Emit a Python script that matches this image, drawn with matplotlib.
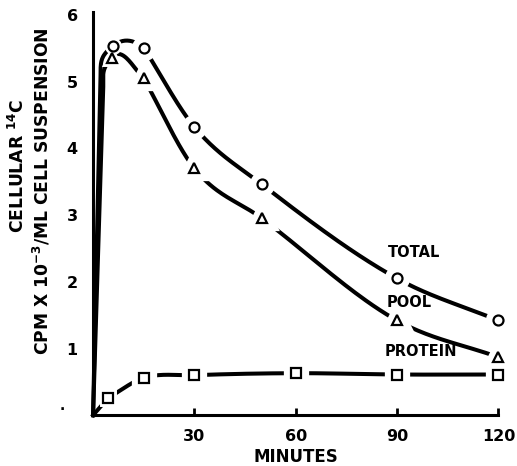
import numpy as np
import matplotlib
matplotlib.use("Agg")
import matplotlib.pyplot as plt

# data (minutes, cellular 14C cpm x 10^-3 / ml)
total_t = [0, 2.2, 6, 15, 30, 50, 90, 120]
total_v = [0, 5.0, 5.54, 5.51, 4.32, 3.46, 2.05, 1.42]
pool_t = [0, 3.0, 5.5, 15, 30, 50, 90, 120]
pool_v = [0, 4.85, 5.36, 5.05, 3.70, 2.95, 1.42, 0.87]
protein_t = [0, 4.5, 15, 30, 60, 90, 120]
protein_v = [0, 0.26, 0.56, 0.60, 0.63, 0.61, 0.61]
# index of the first point that carries a marker
total_first = 2
pool_first = 2
protein_first = 1

x_ticks = [30, 60, 90, 120]
y_ticks = [1, 2, 3, 4, 5, 6]

XMAX, YMAX = 120, 6.05
SX, SY = 407 / XMAX, 400 / YMAX   # rough px per unit, for shaping the curves


def hermite(x0, x1, y0, y1, m0, m1, n=40):
    u = np.linspace(0, 1, n)
    h = x1 - x0
    y = ((2 * u ** 3 - 3 * u ** 2 + 1) * y0 + (u ** 3 - 2 * u ** 2 + u) * h * m0
         + (-2 * u ** 3 + 3 * u ** 2) * y1 + (u ** 3 - u ** 2) * h * m1)
    return x0 + u * h, y


def bezier(p0, p3, d_in, d_out, n=40):
    p0 = np.array([p0[0] * SX, p0[1] * SY])
    p3 = np.array([p3[0] * SX, p3[1] * SY])
    d_in = np.array([d_in[0] * SX, d_in[1] * SY])
    d_out = np.array([d_out[0] * SX, d_out[1] * SY])
    d_in /= np.linalg.norm(d_in)
    d_out /= np.linalg.norm(d_out)
    L = 0.5 * np.linalg.norm(p3 - p0)
    p1 = p0 + L * d_in
    p2 = p3 - L * d_out
    u = np.linspace(0, 1, n)[:, None]
    b = ((1 - u) ** 3 * p0 + 3 * (1 - u) ** 2 * u * p1
         + 3 * (1 - u) * u ** 2 * p2 + u ** 3 * p3)
    return b[:, 0] / SX, b[:, 1] / SY


def smooth_tail(t, v):
    # gentle hermite curve through the later points, slopes = mean of chords
    d = np.diff(v) / np.diff(t)
    m = np.empty(len(t))
    m[0], m[-1] = d[0], d[-1]
    m[1:-1] = (d[:-1] + d[1:]) / 2
    xs, ys = [], []
    for i in range(len(t) - 1):
        hx, hy = hermite(t[i], t[i + 1], v[i], v[i + 1], m[i], m[i + 1])
        xs += list(hx)
        ys += list(hy)
    return xs, ys


def curve(t, v, first, arc=None):
    # straight rise, a bend into the first marker, an arc over the peak,
    # then a gentle curve through the later points
    t = np.asarray(t, float)
    v = np.asarray(v, float)
    xs, ys = list(t[:first]), list(v[:first])
    i = first
    if arc is not None:
        m0, m1 = arc
        bx, by = bezier((t[i - 1], v[i - 1]), (t[i], v[i]),
                        (t[i - 1] - t[i - 2], v[i - 1] - v[i - 2]), (1, m0))
        xs += list(bx)
        ys += list(by)
        hx, hy = hermite(t[i], t[i + 1], v[i], v[i + 1], m0, m1)
        xs += list(hx)
        ys += list(hy)
        i += 1
    tx, ty = smooth_tail(t[i:], v[i:])
    xs += tx
    ys += ty
    return np.array(xs), np.array(ys)


fig = plt.figure(figsize=(5.17, 4.66), dpi=100)
ax = fig.add_axes([0.180, 0.109, 0.784, 0.866])

series = [
    (total_t, total_v, total_first, (0.04, -0.04), "o", 7.2),
    (pool_t, pool_v, pool_first, (0.06, -0.05), "^", 7.5),
    (protein_t, protein_v, protein_first, None, "s", 6.8),
]
for t, v, first, arc, m, ms in series:
    xs, ys = curve(t, v, first, arc)
    ax.plot(xs, ys, color="black", lw=2.9, solid_joinstyle="round", zorder=2,
            clip_on=False)
    mt, mv = np.array(t)[first:], np.array(v)[first:]
    # white halo so the line breaks around each marker (thin one at the first)
    ax.plot(mt[:1], mv[:1], ls="none", marker=m, ms=ms, mfc="white", mec="white",
            mew=5, zorder=3, clip_on=False)
    ax.plot(mt[1:], mv[1:], ls="none", marker=m, ms=ms, mfc="white", mec="white",
            mew=11, zorder=3, clip_on=False)
    ax.plot(mt, mv, ls="none", marker=m, ms=ms, mfc="white", mec="black", mew=1.6,
            zorder=4, clip_on=False)

ax.text(95, 2.44, "TOTAL", fontsize=10.5, fontweight="bold", ha="center", va="center")
ax.text(93.5, 1.69, "POOL", fontsize=10.5, fontweight="bold", ha="center", va="center")
ax.text(97, 0.96, "PROTEIN", fontsize=10.5, fontweight="bold", ha="center", va="center",
        zorder=1)

ax.set_xlim(0, XMAX)
ax.set_ylim(0, YMAX)
ax.set_xticks(x_ticks)
ax.set_yticks(y_ticks)
ax.set_yticks([6], minor=True)
ax.set_xticklabels([str(x) for x in x_ticks], fontsize=11.5, fontweight="bold")
ax.set_yticklabels([str(y) for y in y_ticks], fontsize=11.5, fontweight="bold")
ax.tick_params(axis="x", direction="in", length=5, width=2, pad=10)
ax.tick_params(axis="y", which="major", length=0, pad=11)
ax.tick_params(axis="y", which="minor", direction="in", length=5, width=2)
for s in ["top", "right"]:
    ax.spines[s].set_visible(False)
for s in ["left", "bottom"]:
    ax.spines[s].set_linewidth(2.2)

ax.set_xlabel("MINUTES", fontsize=12, fontweight="bold", labelpad=3)
fig.text(0.035, 0.644, "CELLULAR $^{\\mathbf{14}}$C", rotation=90, fontsize=12.3,
         fontweight="bold", ha="center", va="center")
fig.text(0.082, 0.590, "CPM X 10$^{\\mathbf{-3}}$/ML CELL SUSPENSION", rotation=90,
         fontsize=12.3, fontweight="bold", ha="center", va="center")
fig.text(0.12, 0.12, ".", fontsize=10, fontweight="bold", ha="center")

fig.savefig("out.png", dpi=100)
